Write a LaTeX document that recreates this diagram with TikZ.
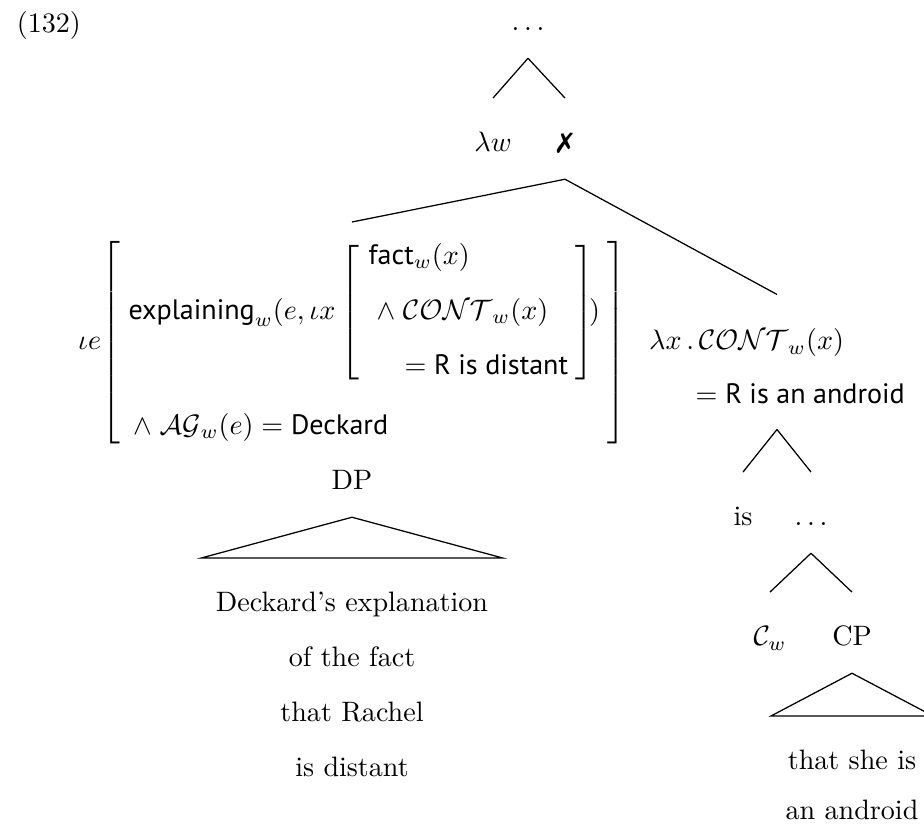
\documentclass[tikz,border=0pt]{standalone}
\usepackage{fontspec}
\setsansfont{PT Sans}
\usepackage{pifont}
\usetikzlibrary{positioning}

\begin{document}
\begin{tikzpicture}[x=0.356pt, y=-0.356pt]
	\tikzset{cat/.style={anchor=base, text height=12pt, text depth=2.5pt, inner xsep=2pt, inner ysep=7pt},
		branch/.style={draw, line width=0.45pt},
		terminal/.style={anchor=north, align=center, inner xsep=5pt, inner ysep=12pt},
	}
	\useasboundingbox (0,0) rectangle (924,831);

	\node [anchor=base west] (exnum) at (7,33) {(132)};

	\node [cat] (top) at (528,31) {$\ldots$};
	\node [cat] (lw) at (493,152) {$\lambda w$};
	\node [cat] (cross) at (565,152) {\ding{55}};

	% left daughter: annotation over DP
	\node [anchor=north, inner sep=6.4pt] (sem) at (352,222) {$\iota e\kern-1.6pt\left[\begin{array}{@{\hskip3pt}l@{\hskip2.5pt}}
		\textsf{explaining}_w(e, \iota x \left[\begin{array}{@{\hskip3.5pt}l@{\hskip2.5pt}}
			\textsf{fact}_w(x)\\[7.6pt]
			\;\wedge\;\mathcal{CONT}_w(x)\\[7.6pt]
			\quad{}= \textsf{R is distant}
		\end{array}\right]\!)\\[29pt]
		\,\wedge\;\mathcal{AG}_w(e) = \textsf{Deckard}
	\end{array}\right]$};
	\node [cat] (dp) at (352,490) {DP};
	\node [terminal] (dpyield) at (352,558) {Deckard’s explanation\\[7.6pt] of the fact\\[7.6pt] that Rachel\\[7.6pt] is distant};

	% right daughter
	\node [anchor=base, inner sep=6.3pt, text depth=21.8pt] (rt) at (777,350) {\def\arraystretch{1.58}\begin{tabular}[t]{@{}p{91pt}@{}}
		$\lambda x\,.\,\mathcal{CONT}_w(x)$\\
		\hfill$=\textsf{R is an android}$
	\end{tabular}};
	\node [cat] (is) at (743,526) {is};
	\node [cat] (dots) at (811,526) {$\ldots$};
	\node [cat] (cw) at (770,646) {$\mathcal{C}_w$};
	\node [cat] (cp) at (852,646) {CP};
	\node [terminal] (cpyield) at (852,716) {that she is\\[5.8pt] an android};

	\path[branch] (top.south) edge (lw.north);
	\path[branch] (top.south) edge (cross.north);
	\path[branch] (cross.south) edge (sem.north);
	\path[branch] (cross.south) edge (rt.north);
	\path[branch] (rt.south) edge (is.north);
	\path[branch] (rt.south) edge (dots.north);
	\path[branch] (dots.south) edge (cw.north);
	\path[branch] (dots.south) edge (cp.north);
	\draw[branch] (dp.south) -- (dpyield.north west) -- (dpyield.north east) -- cycle;
	\draw[branch] (cp.south) -- (cpyield.north west) -- (cpyield.north east) -- cycle;

\end{tikzpicture}
\end{document}
